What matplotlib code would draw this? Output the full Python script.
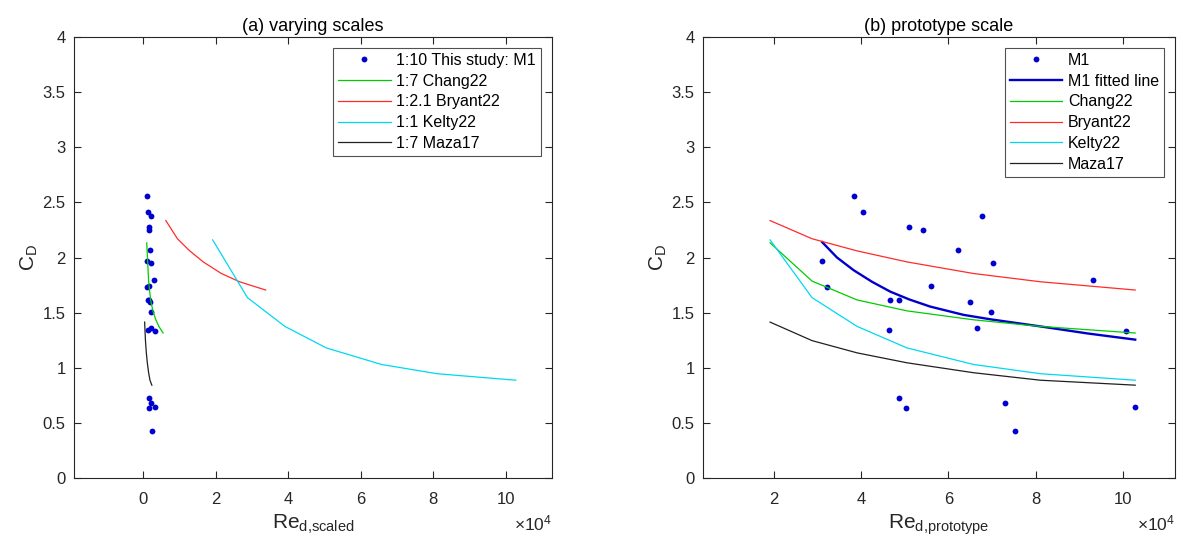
import matplotlib
matplotlib.use('Agg')
import matplotlib.pyplot as plt
from matplotlib.ticker import FuncFormatter, MultipleLocator

plt.rcParams['font.family'] = ['Liberation Sans', 'DejaVu Sans']
plt.rcParams['mathtext.fontset'] = 'custom'
plt.rcParams['mathtext.rm'] = 'Liberation Sans'
plt.rcParams['mathtext.it'] = 'Liberation Sans:italic'

# M1 measurements (Re in units of 1e4)
m1_cd = [2.562, 2.415, 2.28, 2.25, 2.38, 2.065, 1.969, 1.953, 1.80, 1.741, 1.729, 1.612,
         1.612, 1.594, 1.507, 1.342, 1.363, 1.336, 0.725, 0.631, 0.676, 0.647, 0.422]
m1_re_proto = [3.83, 4.05, 5.10, 5.41, 6.76, 6.22, 3.11, 7.01, 9.30, 5.60, 3.23, 4.67,
               4.87, 6.50, 6.98, 4.64, 6.66, 10.05, 4.87, 5.02, 7.30, 10.27, 7.53]
m1_re_scaled = [0.121, 0.128, 0.161, 0.171, 0.214, 0.197, 0.098, 0.222, 0.294, 0.177, 0.102, 0.148,
                0.154, 0.206, 0.221, 0.147, 0.211, 0.318, 0.154, 0.159, 0.231, 0.325, 0.238]

# fitted line for M1 (prototype scale)
fit_re = [3.11, 3.45, 3.83, 4.25, 4.67, 5.1, 5.58, 6.34, 6.95, 8.10, 9.2, 10.27]
fit_cd = [2.14, 2.0, 1.885, 1.78, 1.69, 1.62, 1.555, 1.48, 1.44, 1.375, 1.31, 1.255]

# literature curves, prototype Re
lit_re_proto = [1.92, 2.88, 3.91, 5.05, 6.57, 8.10, 10.27]
chang_cd = [2.133, 1.786, 1.615, 1.516, 1.435, 1.375, 1.315]
bryant_cd = [2.335, 2.17, 2.06, 1.96, 1.855, 1.78, 1.705]
kelty_cd = [2.16, 1.636, 1.375, 1.18, 1.03, 0.946, 0.887]
maza_cd = [1.414, 1.246, 1.135, 1.045, 0.955, 0.887, 0.842]

# literature curves, scaled Re
chang_re_sc = [0.104, 0.156, 0.211, 0.273, 0.355, 0.438, 0.555]
bryant_re_sc = [0.63, 0.95, 1.29, 1.66, 2.16, 2.66, 3.38]
kelty_re_sc = [1.92, 2.88, 3.91, 5.05, 6.57, 8.10, 10.27]
maza_re_sc = [0.046, 0.069, 0.093, 0.120, 0.156, 0.193, 0.245]

c_dot = '#0000d0'; c_fit = '#0000cc'; c_g = '#00cc00'; c_r = '#ff2a2a'; c_c = '#00d8f0'; c_k = '#202020'
axcol = '#262626'

fig = plt.figure(figsize=(11.83, 5.42), dpi=100)
ax1 = fig.add_axes([74/1183, 1-478/542, (552-74)/1183, (478-37)/542])
ax2 = fig.add_axes([703/1183, 1-478/542, (1175-703)/1183, (478-37)/542])

ax1.plot(m1_re_scaled, m1_cd, 'o', color=c_dot, ms=4.2, mec='none', label='1:10 This study: M1')
ax1.plot(chang_re_sc, chang_cd, color=c_g, lw=0.9, label='1:7 Chang22')
ax1.plot(bryant_re_sc, bryant_cd, color=c_r, lw=0.9, label='1:2.1 Bryant22')
ax1.plot(kelty_re_sc, kelty_cd, color=c_c, lw=0.9, label='1:1 Kelty22')
ax1.plot(maza_re_sc, maza_cd, color=c_k, lw=0.9, label='1:7 Maza17')
ax1.set_xlim(-1.9, 11.27)
ax1.set_title('(a) varying scales', fontsize=13, color='k', pad=4)
ax1.set_xlabel(r'Re$_{\mathrm{d{,}scaled}}$', fontsize=15, color=axcol, labelpad=4)

ax2.plot(m1_re_proto, m1_cd, 'o', color=c_dot, ms=4.2, mec='none', label='M1')
ax2.plot(fit_re, fit_cd, color=c_fit, lw=1.7, label='M1 fitted line')
ax2.plot(lit_re_proto, chang_cd, color=c_g, lw=0.9, label='Chang22')
ax2.plot(lit_re_proto, bryant_cd, color=c_r, lw=0.9, label='Bryant22')
ax2.plot(lit_re_proto, kelty_cd, color=c_c, lw=0.9, label='Kelty22')
ax2.plot(lit_re_proto, maza_cd, color=c_k, lw=0.9, label='Maza17')
ax2.set_xlim(0.386, 11.18)
ax2.set_title('(b) prototype scale', fontsize=13, color='k', pad=4)
ax2.set_xlabel(r'Re$_{\mathrm{d{,}prototype}}$', fontsize=15, color=axcol, labelpad=4)

for ax in (ax1, ax2):
    ax.set_ylim(0, 4)
    ax.yaxis.set_major_locator(MultipleLocator(0.5))
    ax.xaxis.set_major_locator(MultipleLocator(2))
    ax.xaxis.set_major_formatter(FuncFormatter(lambda v, p: f'{v:g}'))
    ax.yaxis.set_major_formatter(FuncFormatter(lambda v, p: f'{v:g}'))
    ax.tick_params(direction='in', top=True, right=True, length=5, width=0.8,
                   labelsize=12, colors=axcol, labelcolor=axcol, pad=6)
    ax.tick_params(axis='x', pad=10)
    for s in ax.spines.values():
        s.set_color(axcol); s.set_linewidth(0.8)
    ax.set_ylabel(r'C$_{\mathrm{D}}$', fontsize=15, color=axcol, labelpad=2)
    ax.text(1.0, -0.08, r'$\times$10$^{4}$', transform=ax.transAxes, ha='right', va='top',
            fontsize=12.5, color=axcol)
    leg = ax.legend(loc='upper right', fontsize=11.5, numpoints=1, fancybox=False,
                    framealpha=1, edgecolor='#505050', handlelength=3.3, handletextpad=0.35,
                    labelspacing=0.36, borderpad=0.3, borderaxespad=0.7)
    leg.get_frame().set_linewidth(0.8)

fig.savefig('out.png', dpi=100)
